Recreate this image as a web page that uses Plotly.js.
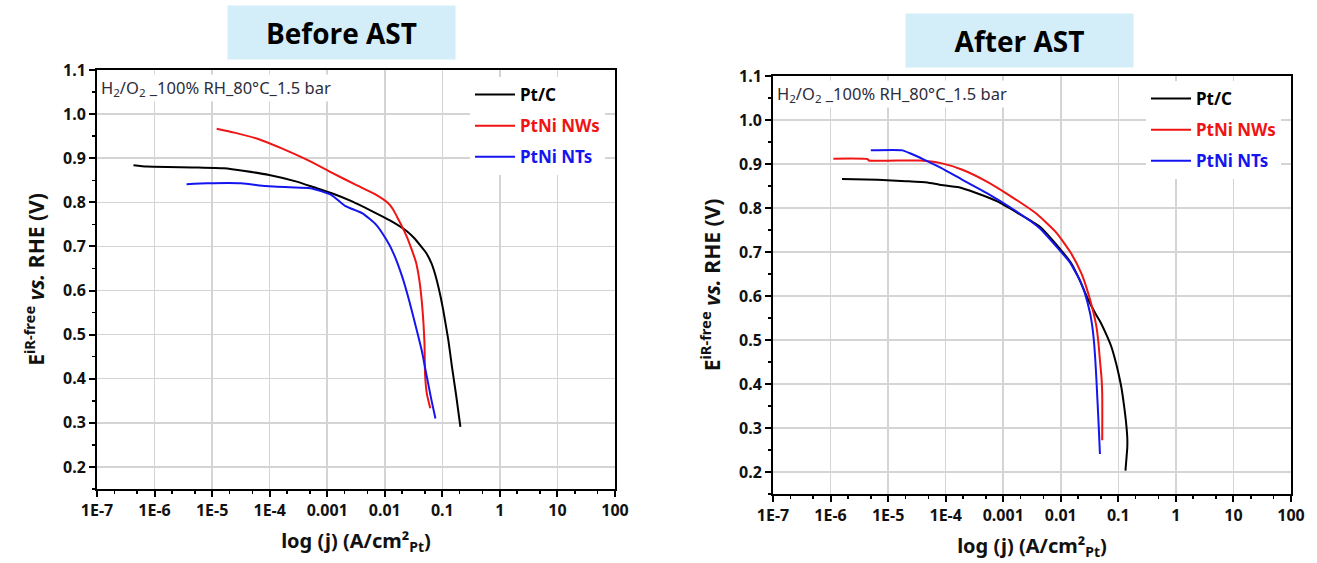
<!DOCTYPE html>
<html>
<head>
<meta charset="utf-8">
<script src="https://cdn.plot.ly/plotly-3.0.1.min.js"></script>
<style>html,body{margin:0;padding:0;background:#fff;}#chart{width:1317px;height:563px;}</style>
</head>
<body>
<div id="chart"></div>
<script>
// ---- data: current density j (A/cm2_Pt) and E iR-free (V vs RHE) ----
const seriesNames = ["Pt/C", "PtNi NWs", "PtNi NTs"];
const seriesColors = ["#000000", "#f01515", "#1515f0"];

// Before AST
const beforePtC_j = [4.3e-7, 7.4e-7, 5.5e-6, 1.6e-5, 3.7e-5, 9.8e-5, 2.95e-4, 5.9e-4, 1.17e-3, 2.7e-3, 6.2e-3, 0.0123, 0.0245, 0.0324, 0.0427, 0.0525, 0.0646, 0.0741, 0.0851, 0.0933, 0.1035, 0.127, 0.146, 0.174, 0.206];
const beforePtC_E = [0.884, 0.881, 0.879, 0.877, 0.871, 0.862, 0.847, 0.834, 0.821, 0.802, 0.779, 0.759, 0.734, 0.719, 0.700, 0.685, 0.662, 0.639, 0.609, 0.586, 0.556, 0.488, 0.430, 0.362, 0.291];
const beforeNWs_j = [1.2e-5, 2.45e-5, 6.5e-5, 1.7e-4, 4.5e-4, 1.17e-3, 3.1e-3, 7.1e-3, 0.0115, 0.0138, 0.0162, 0.020, 0.0245, 0.0295, 0.0347, 0.0398, 0.0437, 0.0468, 0.049, 0.050, 0.0537, 0.0617];
const beforeNWs_E = [0.967, 0.958, 0.943, 0.921, 0.896, 0.868, 0.840, 0.817, 0.798, 0.785, 0.768, 0.745, 0.720, 0.692, 0.665, 0.624, 0.579, 0.530, 0.480, 0.412, 0.367, 0.333];
const beforeNTs_j = [3.6e-6, 8.3e-6, 3.2e-5, 8.5e-5, 2.24e-4, 5.1e-4, 1.17e-3, 2.04e-3, 4.1e-3, 7.1e-3, 0.0107, 0.0141, 0.020, 0.0263, 0.0347, 0.0437, 0.0537, 0.0646, 0.0759];
const beforeNTs_E = [0.841, 0.843, 0.843, 0.837, 0.834, 0.832, 0.817, 0.792, 0.775, 0.749, 0.715, 0.685, 0.632, 0.579, 0.518, 0.465, 0.405, 0.352, 0.310];

// After AST
const afterPtC_j = [1.58e-6, 6.6e-6, 2.04e-5, 4.8e-5, 7.8e-5, 1.7e-4, 3.4e-4, 7.9e-4, 1.82e-3, 4.3e-3, 0.0100, 0.0151, 0.020, 0.0302, 0.040, 0.050, 0.062, 0.0759, 0.088, 0.1007, 0.113, 0.1245, 0.135, 0.143, 0.143, 0.139, 0.133];
const afterPtC_E = [0.866, 0.864, 0.861, 0.858, 0.853, 0.847, 0.834, 0.815, 0.788, 0.758, 0.705, 0.675, 0.644, 0.591, 0.560, 0.538, 0.512, 0.484, 0.455, 0.424, 0.392, 0.355, 0.318, 0.279, 0.255, 0.234, 0.203];
const afterNWs_j = [1.12e-6, 4.4e-6, 4.6e-6, 3.6e-5, 8.3e-5, 1.95e-4, 5.2e-4, 1.38e-3, 3.7e-3, 8.5e-3, 0.0151, 0.0229, 0.0275, 0.0324, 0.037, 0.0417, 0.045, 0.0479, 0.051, 0.0525, 0.0525];
const afterNWs_E = [0.912, 0.911, 0.908, 0.908, 0.902, 0.887, 0.860, 0.826, 0.788, 0.743, 0.697, 0.651, 0.622, 0.591, 0.562, 0.530, 0.495, 0.454, 0.415, 0.378, 0.272];
const afterNTs_j = [5.0e-6, 1.78e-5, 2.34e-5, 4.2e-5, 8.3e-5, 1.95e-4, 5.2e-4, 1.38e-3, 4.3e-3, 0.0100, 0.0145, 0.0186, 0.0225, 0.0263, 0.0324, 0.0355, 0.038, 0.040, 0.0417, 0.0457, 0.0479];
const afterNTs_E = [0.931, 0.931, 0.925, 0.910, 0.891, 0.864, 0.834, 0.800, 0.754, 0.701, 0.676, 0.651, 0.630, 0.606, 0.560, 0.528, 0.492, 0.450, 0.408, 0.302, 0.241];

const xTickVals = [1e-7, 1e-6, 1e-5, 1e-4, 1e-3, 1e-2, 1e-1, 1, 10, 100];
const xTickText = ["1E-7", "1E-6", "1E-5", "1E-4", "0.001", "0.01", "0.1", "1", "10", "100"];
const panelTitles = ["Before AST", "After AST"];
const conditionText = "H<sub>2</sub>/O<sub>2</sub> _100% RH_80°C_1.5 bar";

// ---- traces ----
const panels = [
  [[beforePtC_j, beforePtC_E], [beforeNWs_j, beforeNWs_E], [beforeNTs_j, beforeNTs_E]],
  [[afterPtC_j, afterPtC_E], [afterNWs_j, afterNWs_E], [afterNTs_j, afterNTs_E]]
];
const traces = [];
panels.forEach((panel, p) => {
  panel.forEach((s, i) => {
    traces.push({
      type: "scatter", mode: "lines",
      x: s[0], y: s[1],
      xaxis: p === 0 ? "x" : "x2", yaxis: p === 0 ? "y" : "y2",
      name: '<b><span style="color:' + seriesColors[i] + '">' + seriesNames[i] + '</span></b>',
      legend: p === 0 ? "legend" : "legend2",
      legendgroup: "g" + p + i,
      line: { color: seriesColors[i], width: 2, shape: "spline", smoothing: 0.5 },
      hoverinfo: "x+y"
    });
  });
});

const FAM = "Noto Sans, Open Sans, sans-serif";
const tickFont = { family: FAM, size: 16, color: "#111", weight: 700 };
function xAxis(domain, anchor) {
  return {
    type: "log", range: [-7, 2], domain: domain, anchor: anchor,
    tickmode: "array", tickvals: xTickVals, ticktext: xTickText,
    ticks: "outside", ticklen: 6, tickwidth: 2, tickcolor: "#000",
    minor: { ticks: "outside", ticklen: 3, tickwidth: 1.5, tickcolor: "#000", showgrid: false },
    showline: true, linewidth: 2, linecolor: "#000", mirror: true,
    showgrid: true, gridcolor: "#d4d4d4", gridwidth: 1.5,
    tickfont: tickFont, zeroline: false,
    title: { text: "<b>log (j) (A/cm²<sub>Pt</sub>)</b>", font: { family: FAM, size: 20, color: "#111" }, standoff: 14 }
  };
}
function yAxis(domain, anchor) {
  return {
    range: [0.15, 1.1], domain: domain, anchor: anchor,
    tick0: 0, dtick: 0.1, tickformat: ".1f",
    ticks: "outside", ticklen: 6, tickwidth: 2, tickcolor: "#000",
    minor: { ticks: "outside", ticklen: 3, tickwidth: 1.5, tickcolor: "#000", dtick: 0.05, showgrid: false },
    showline: true, linewidth: 2, linecolor: "#000", mirror: true,
    showgrid: true, gridcolor: "#d4d4d4", gridwidth: 1.5,
    tickfont: tickFont, zeroline: false,
    title: { text: "<b>E<sup>iR-free</sup> <i>vs.</i> RHE (V)</b>", font: { family: FAM, size: 21, color: "#111" }, standoff: 13 }
  };
}

const legendFont = { family: FAM, size: 17, color: "#000" };
const titleFont = { family: "Open Sans, sans-serif", size: 28, color: "#000" };
const condFont = { family: FAM, size: 16.5, color: "#2d2d3a" };
const layout = {
  width: 1317, height: 563,
  margin: { l: 0, r: 0, t: 0, b: 0 },
  paper_bgcolor: "#fff", plot_bgcolor: "#fff",
  showlegend: true,
  xaxis: xAxis([97 / 1317, 615 / 1317], "y"),
  yaxis: yAxis([1 - 489 / 563, 1 - 70 / 563], "x"),
  xaxis2: xAxis([773 / 1317, 1291 / 1317], "y2"),
  yaxis2: yAxis([1 - 494 / 563, 1 - 76 / 563], "x2"),
  legend: { x: 470 / 1317, y: 1 - 77 / 563, xanchor: "left", yanchor: "top", bgcolor: "#fff", font: legendFont, tracegroupgap: 6, itemwidth: 40 },
  legend2: { x: 1146 / 1317, y: 1 - 81 / 563, xanchor: "left", yanchor: "top", bgcolor: "#fff", font: legendFont, tracegroupgap: 6, itemwidth: 40 },
  annotations: [
    { text: "<b>" + panelTitles[0] + "</b>", xref: "paper", yref: "paper", x: 341.5 / 1317, y: 1 - 32.5 / 563, xanchor: "center", yanchor: "middle",
      showarrow: false, bgcolor: "#d3eef8", width: 225, height: 51, font: titleFont },
    { text: "<b>" + panelTitles[1] + "</b>", xref: "paper", yref: "paper", x: 1019.5 / 1317, y: 1 - 40 / 563, xanchor: "center", yanchor: "middle",
      showarrow: false, bgcolor: "#d3eef8", width: 225, height: 51, font: titleFont },
    { text: conditionText, xref: "paper", yref: "paper", x: 99 / 1317, y: 1 - 74 / 563, xanchor: "left", yanchor: "top",
      showarrow: false, bgcolor: "#fff", font: condFont },
    { text: conditionText, xref: "paper", yref: "paper", x: 775 / 1317, y: 1 - 80 / 563, xanchor: "left", yanchor: "top",
      showarrow: false, bgcolor: "#fff", font: condFont }
  ]
};

Plotly.newPlot("chart", traces, layout, { displayModeBar: false, staticPlot: true });
</script>
</body>
</html>
